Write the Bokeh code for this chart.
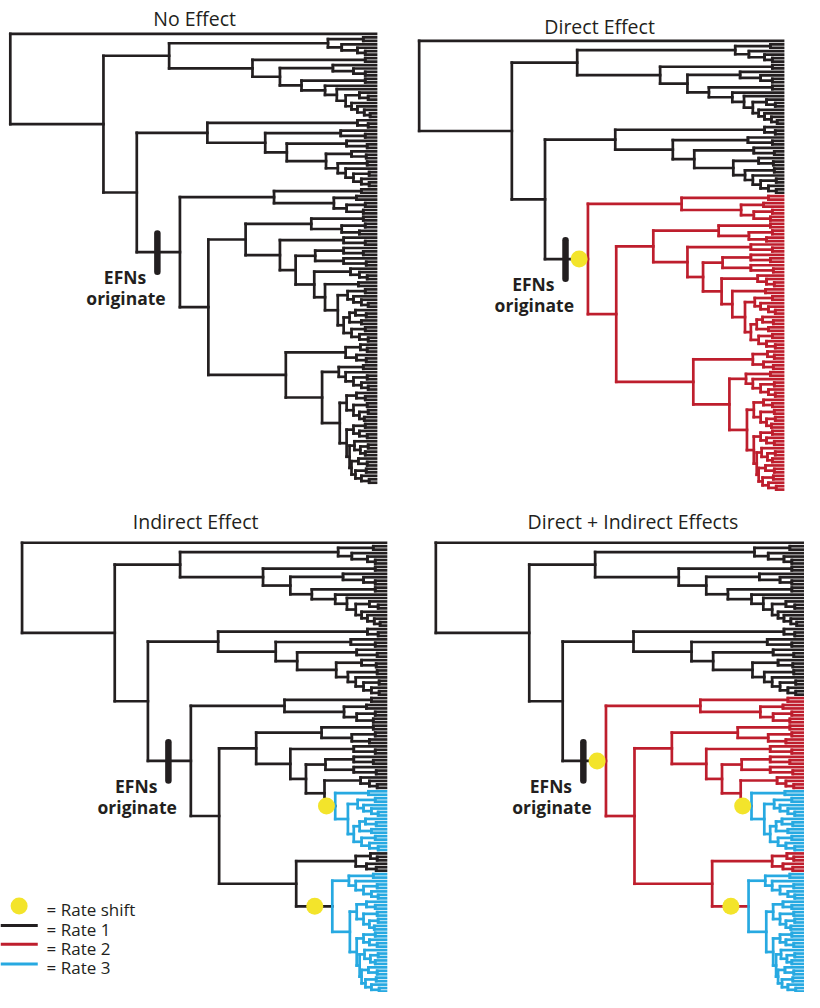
from bokeh.plotting import figure
from bokeh.models import Range1d, ColumnDataSource
from bokeh.core.properties import value
from bokeh.embed import file_html
from bokeh.resources import INLINE

# ---------------- data ----------------
# Tree clades: "T" = tip, "(a,b)D" = internal node at depth D (tip depth = 383),
# "[TAG]" marks a clade where a rate shift can happen.
TIP_DEPTH = 383
CLADE_N2 = ("(((T,T)370,(T,(T,(T,T)372)364)348)334,((T,T)372,((T,(T,(T,T)372)360)339,"
            "((T,T)372,(T,(T,((T,(T,T)375)366,(T,(T,(T,(T,T)377)371)364)358)352)343)331)307)285)257)172")
CLADE_N4 = ("((T,(T,T)375)364,((T,(T,T)372)347,((T,(T,T)374)353,"
            "((T,(T,T)373)358,((T,T)374,(T,((T,T)376,(T,(T,T)376)368)360)352)344)332)292)270)211")
CLADE_N5TOP = "((T,T)368,((T,T)363,((T,T)372,(T,T)370)353)340)279"
CLADE_N7A = "((T,T)370,((T,T)372,(T,T)366)348)317"
CLADE_B1 = ("((T,T)365,(((T,T)372,(T,(T,(T,T)375)368)360)354,(((T,(T,T)373)362,(T,T)368)356,"
            "((T,T)372,(T,(T,T)375)366)358)350)344)331[B1]")
CLADE_N7B = ("((T,(T,T)372)350,(((T,(T,T)370)350,(T,(T,T)373)350)321,((T,(T,(T,T)374)366)357,"
             + CLADE_B1 + ")320)301)285")
CLADE_N8A = "((T,(T,T)374)367,(T,(T,T)373)363)352"
CLADE_B2A = "((T,T)370,(T,((T,T)374,(T,(T,T)375)368)360)352)345"
CLADE_B2B = "((T,(T,T)372)363,((T,T)374,((T,T)375,(T,T)371)366)360)353"
CLADE_B2C = ("(((T,T)372,(T,(T,T)374)366)360,((T,((T,T)375,(T,T)372)367)361,"
             "((T,(T,T)374)365,((T,T)373,(T,(T,T)376)368)362)358)356)353")
CLADE_B2 = "(" + CLADE_B2A + ",(" + CLADE_B2B + "," + CLADE_B2C + ")346)328[B2]"
TREE = ("(T,(" + CLADE_N2 + ",(" + CLADE_N4 + ",(" + CLADE_N5TOP + ",((" + CLADE_N7A + "," + CLADE_N7B
        + ")250,(" + CLADE_N8A + "," + CLADE_B2 + ")291)212)183[EFN])139)105)10")

TITLES = ["No Effect", "Direct Effect", "Indirect Effect", "Direct + Indirect Effects"]
PANEL_SHIFTS = [[], ["EFN"], ["B1", "B2"], ["EFN", "B1", "B2"]]
SHIFT_DEPTH = {"EFN": 174, "B1": 322, "B2": 310}
EFN_BAR_DEPTH = 160
EFN_LABELS = ["EFNs", "originate"]
LEGEND_LABELS = ["= Rate shift", "= Rate 1", "= Rate 2", "= Rate 3"]

BLACK = "#231f20"
RED = "#be1e2d"
BLUE = "#27a9e1"
YELLOW = "#f3e42b"
SHIFT_COLOR = {"EFN": RED, "B1": BLUE, "B2": BLUE}
SPLIT_STEM = {"EFN": True, "B1": False, "B2": False}

# panel geometry (page px): origin x of root, y of first tip, x scale, title anchor
PANEL_OX = [10, 427, 22, 444]
PANEL_OY = [34, 41, 551, 551]
PANEL_SX = [1.0, 0.995, 0.995, 1.003]
TITLE_X = [198, 611, 199, 645]
TITLE_Y = [18, 26, 529, 529]
TREE_HEIGHT = 456


# ---------------- tree parsing / layout ----------------
def parse(s, i=0):
    if s[i] == "T":
        return {"d": TIP_DEPTH, "kids": [], "tag": None}, i + 1
    i += 1
    kids = []
    while True:
        k, i = parse(s, i)
        kids.append(k)
        if s[i] == ",":
            i += 1
            continue
        i += 1
        break
    j = i
    while j < len(s) and (s[j].isdigit() or s[j] == "."):
        j += 1
    d = float(s[i:j])
    i = j
    tag = None
    if i < len(s) and s[i] == "[":
        e = s.index("]", i)
        tag = s[i + 1:e]
        i = e + 1
    return {"d": d, "kids": kids, "tag": tag}, i


root, _ = parse(TREE)
counter = [0]


def layout(n):
    if not n["kids"]:
        n["yi"] = counter[0]
        counter[0] += 1
    else:
        for k in n["kids"]:
            layout(k)
        n["yi"] = (n["kids"][0]["yi"] + n["kids"][-1]["yi"]) / 2.0


layout(root)
NTIPS = counter[0]
SPACING = TREE_HEIGHT / (NTIPS - 1)

p = figure(width=804, height=992, x_range=Range1d(0, 820), y_range=Range1d(1008, 0),
           output_backend="svg", toolbar_location=None, min_border=0)
p.axis.visible = False
p.grid.visible = False
p.outline_line_color = None

seg = {"x0": [], "y0": [], "x1": [], "y1": [], "c": []}
dots_x, dots_y = [], []
bars = {"x0": [], "y0": [], "x1": [], "y1": []}
lab_x, lab_y, lab_t = [], [], []

for pi in range(4):
    ox, oy, sx = PANEL_OX[pi], PANEL_OY[pi], PANEL_SX[pi]
    active = PANEL_SHIFTS[pi]

    def X(d):
        return ox + (d - 10) * sx

    def Y(yi):
        return oy + yi * SPACING

    def add(x0, y0, x1, y1, c):
        seg["x0"].append(x0); seg["y0"].append(y0)
        seg["x1"].append(x1); seg["y1"].append(y1); seg["c"].append(c)

    def walk(n, color):
        if n["tag"] in active:
            color = SHIFT_COLOR[n["tag"]]
        if n["kids"]:
            add(X(n["d"]), Y(n["kids"][0]["yi"]), X(n["d"]), Y(n["kids"][-1]["yi"]), color)
            for k in n["kids"]:
                kc = SHIFT_COLOR[k["tag"]] if k["tag"] in active else color
                yk = Y(k["yi"])
                if k["tag"] in active:
                    xd = X(SHIFT_DEPTH[k["tag"]])
                    dots_x.append(xd); dots_y.append(yk)
                    if SPLIT_STEM[k["tag"]]:
                        add(X(n["d"]), yk, xd, yk, color)
                        add(xd, yk, X(k["d"]), yk, kc)
                    else:
                        add(X(n["d"]), yk, X(k["d"]), yk, color)
                else:
                    add(X(n["d"]), yk, X(k["d"]), yk, kc)
                if k["tag"] == "EFN":
                    bx = X(EFN_BAR_DEPTH)
                    bars["x0"].append(bx); bars["x1"].append(bx)
                    bars["y0"].append(yk - 19); bars["y1"].append(yk + 20)
                    lab_x.extend([X(127), X(128)])
                    lab_y.extend([yk + 25, yk + 47])
                    lab_t.extend(EFN_LABELS)
                walk(k, kc)

    walk(root, BLACK)

p.segment(x0="x0", y0="y0", x1="x1", y1="y1", line_color="c", line_width=2.7,
          line_cap="square", source=ColumnDataSource(seg))
p.segment(x0="x0", y0="y0", x1="x1", y1="y1", line_color=BLACK, line_width=6.5,
          line_cap="round", source=ColumnDataSource(bars))
p.scatter(x=dots_x, y=dots_y, size=17, fill_color=YELLOW, line_color=None)

p.text(x=TITLE_X, y=TITLE_Y, text=TITLES, text_font=value("Open Sans"), text_font_size="19.5px",
       text_align="center", text_baseline="alphabetic", text_color=BLACK)
p.text(x=lab_x, y=lab_y, text=lab_t, text_font=value("Open Sans"), text_font_size="17.5px",
       text_font_style="bold", text_align="center", text_baseline="alphabetic", text_color=BLACK)

# legend (inside the Indirect Effect panel)
LEG_Y = [920, 940, 959, 979]
LEG_COLORS = [BLACK, RED, BLUE]
p.scatter(x=[19], y=[LEG_Y[0]], size=17, fill_color=YELLOW, line_color=None)
p.segment(x0=[0, 0, 0], y0=LEG_Y[1:], x1=[38, 38, 38], y1=LEG_Y[1:], line_color=LEG_COLORS,
          line_width=3)
p.text(x=[47] * 4, y=[y + 4 for y in LEG_Y], text=LEGEND_LABELS, text_font=value("Open Sans"),
       text_font_size="17px", text_align="left", text_baseline="alphabetic", text_color=BLACK)

open("out.html", "w").write(file_html(p, INLINE))
